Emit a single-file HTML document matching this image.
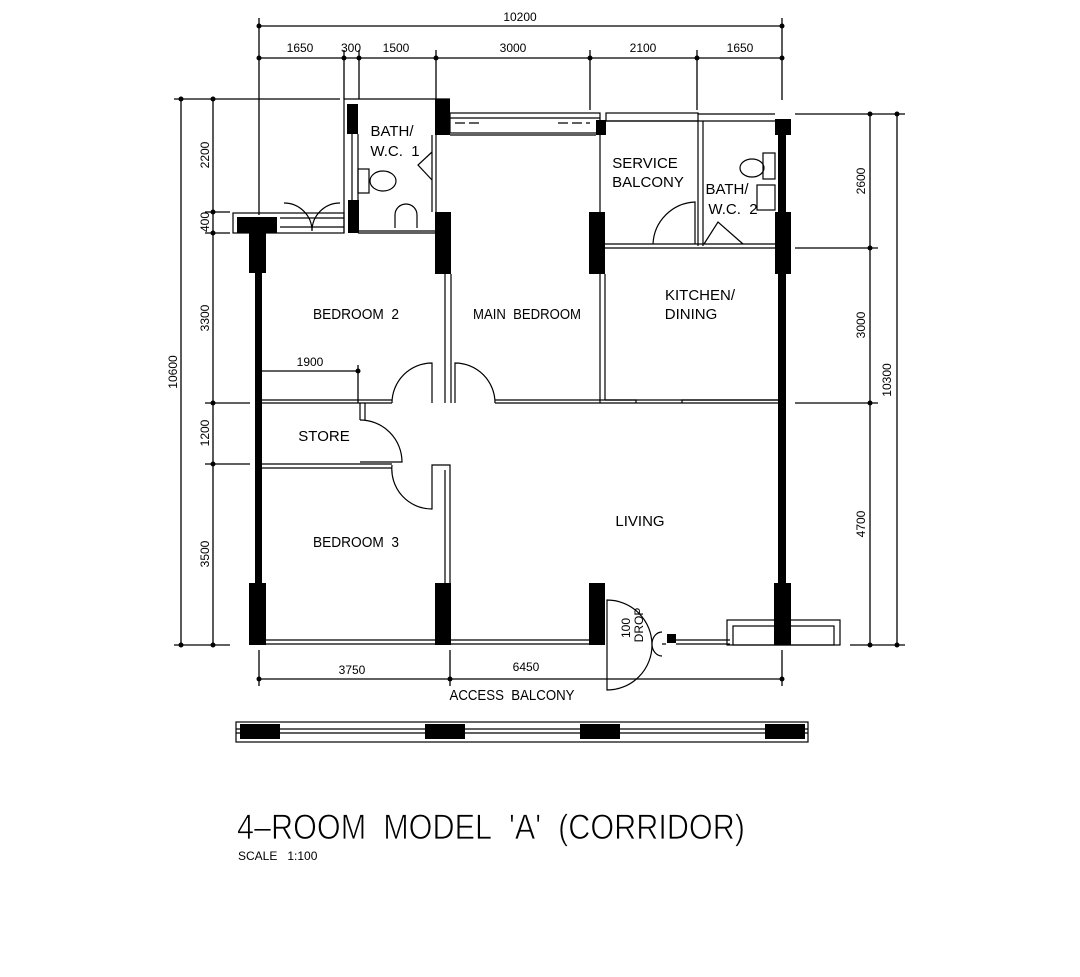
<!DOCTYPE html>
<html><head><meta charset="utf-8"><style>
html,body{margin:0;padding:0;background:#fff;}
svg{display:block}
text{font-family:"Liberation Sans",sans-serif;fill:#000}
</style></head><body>
<svg width="1080" height="977" viewBox="0 0 1080 977" xmlns="http://www.w3.org/2000/svg">
<g stroke="#000" stroke-width="1.3" fill="none">
<line x1="259" y1="26" x2="782" y2="26"/>
<line x1="259" y1="58" x2="782" y2="58"/>
<line x1="259" y1="18" x2="259" y2="215"/>
<line x1="782" y1="18" x2="782" y2="100"/>
<line x1="344" y1="50" x2="344" y2="99"/>
<line x1="359" y1="50" x2="359" y2="99"/>
<line x1="436" y1="50" x2="436" y2="99"/>
<line x1="590" y1="50" x2="590" y2="110"/>
<line x1="697" y1="50" x2="697" y2="110"/>
<line x1="181" y1="99" x2="181" y2="645"/>
<line x1="213" y1="99" x2="213" y2="645"/>
<line x1="174" y1="99" x2="340" y2="99"/>
<line x1="205" y1="212" x2="230" y2="212"/>
<line x1="205" y1="233" x2="230" y2="233"/>
<line x1="205" y1="403" x2="250" y2="403"/>
<line x1="205" y1="464" x2="250" y2="464"/>
<line x1="174" y1="645" x2="230" y2="645"/>
<line x1="870" y1="114" x2="870" y2="645"/>
<line x1="897" y1="114" x2="897" y2="645"/>
<line x1="795" y1="114" x2="905" y2="114"/>
<line x1="795" y1="248" x2="878" y2="248"/>
<line x1="795" y1="403" x2="878" y2="403"/>
<line x1="850" y1="645" x2="905" y2="645"/>
<line x1="259" y1="679" x2="782" y2="679"/>
<line x1="259" y1="650" x2="259" y2="686"/>
<line x1="450" y1="650" x2="450" y2="686"/>
<line x1="782" y1="650" x2="782" y2="686"/>
<line x1="262" y1="371" x2="358" y2="371"/>
<line x1="358" y1="365" x2="358" y2="403"/>
</g>
<g fill="#000">
<circle cx="259" cy="26" r="2.5"/><circle cx="782" cy="26" r="2.5"/>
<circle cx="259" cy="58" r="2.5"/><circle cx="344" cy="58" r="2.5"/><circle cx="359" cy="58" r="2.5"/><circle cx="436" cy="58" r="2.5"/><circle cx="590" cy="58" r="2.5"/><circle cx="697" cy="58" r="2.5"/><circle cx="782" cy="58" r="2.5"/>
<circle cx="181" cy="99" r="2.5"/><circle cx="181" cy="645" r="2.5"/>
<circle cx="213" cy="99" r="2.5"/><circle cx="213" cy="212" r="2.5"/><circle cx="213" cy="233" r="2.5"/><circle cx="213" cy="403" r="2.5"/><circle cx="213" cy="464" r="2.5"/><circle cx="213" cy="645" r="2.5"/>
<circle cx="870" cy="114" r="2.5"/><circle cx="870" cy="248" r="2.5"/><circle cx="870" cy="403" r="2.5"/><circle cx="870" cy="645" r="2.5"/>
<circle cx="897" cy="114" r="2.5"/><circle cx="897" cy="645" r="2.5"/>
<circle cx="259" cy="679" r="2.5"/><circle cx="450" cy="679" r="2.5"/><circle cx="782" cy="679" r="2.5"/>
<circle cx="358" cy="371" r="2.5"/>
<rect x="237" y="217" width="40" height="16"/>
<rect x="249" y="233" width="17" height="40"/>
<rect x="255" y="273" width="7" height="310"/>
<rect x="249" y="583" width="17" height="62"/>
<rect x="347" y="104" width="11" height="30"/>
<rect x="348" y="200" width="11" height="33"/>
<rect x="435" y="99" width="15" height="36"/>
<rect x="435" y="212" width="16" height="62"/>
<rect x="596" y="120" width="10" height="15"/>
<rect x="589" y="212" width="16" height="62"/>
<rect x="775" y="119" width="16" height="16"/>
<rect x="778" y="135" width="8" height="450"/>
<rect x="775" y="212" width="16" height="62"/>
<rect x="435" y="583" width="16" height="62"/>
<rect x="589" y="583" width="16" height="62"/>
<rect x="774" y="583" width="17" height="62"/>
<rect x="667" y="634" width="9" height="9"/>
<rect x="240" y="724" width="40" height="15"/>
<rect x="425" y="724" width="40" height="15"/>
<rect x="580" y="724" width="40" height="15"/>
<rect x="765" y="724" width="40" height="15"/>
</g>
<g stroke="#000" stroke-width="1.2" fill="none">
<polyline points="344,233 344,99 450,99"/>
<line x1="358" y1="134" x2="358" y2="200"/>
<line x1="352" y1="134" x2="352" y2="200"/>
<line x1="358" y1="231" x2="436" y2="231"/>
<line x1="358" y1="233" x2="436" y2="233"/>
<line x1="436" y1="135" x2="436" y2="212"/>
<line x1="432" y1="135" x2="432" y2="212"/>
<polyline points="432,152 418,165 432,180"/>
<ellipse cx="383" cy="181" rx="13" ry="10"/>
<rect x="358" y="169" width="11" height="24"/>
<path d="M395,228 V215 a11,11 0 0 1 22,0 V228"/>
<rect x="233" y="213" width="111" height="20"/>
<line x1="280" y1="218" x2="344" y2="218"/>
<line x1="280" y1="227" x2="344" y2="227"/>
<path d="M284,203 a28,28 0 0 1 28,28 M340,203 a28,28 0 0 0 -28,28"/>
<rect x="450" y="113" width="150" height="20"/>
<line x1="450" y1="118" x2="600" y2="118"/>
<line x1="450" y1="135" x2="596" y2="135"/>
<line x1="455" y1="123" x2="482" y2="123" stroke-dasharray="10,4"/>
<line x1="558" y1="123" x2="590" y2="123" stroke-dasharray="10,4"/>
<rect x="606" y="113" width="92" height="8"/>
<polyline points="698,114 775,114"/>
<line x1="606" y1="121" x2="775" y2="121"/>
<line x1="698" y1="121" x2="698" y2="246"/>
<line x1="703" y1="121" x2="703" y2="246"/>
<line x1="600" y1="135" x2="600" y2="212"/>
<line x1="605" y1="244" x2="778" y2="244"/>
<line x1="605" y1="248" x2="778" y2="248"/>
<path d="M653,244 a44,44 0 0 1 42,-42 V244"/>
<polyline points="704,244 718,222 743,244"/>
<ellipse cx="752" cy="168" rx="12" ry="9"/>
<rect x="763" y="153" width="12" height="26"/>
<rect x="757" y="185" width="18" height="25"/>
<line x1="600" y1="274" x2="600" y2="403"/>
<line x1="605" y1="274" x2="605" y2="400"/>
<polyline points="605,400 636,400 636,403"/>
<polyline points="682,403 682,400 778,400"/>
<line x1="445" y1="274" x2="445" y2="403"/>
<line x1="451" y1="274" x2="451" y2="403"/>
<path d="M392,403 a40,40 0 0 1 40,-40 V403"/>
<path d="M455,403 V363 a40,40 0 0 1 40,40"/>
<line x1="495" y1="403" x2="778" y2="403"/>
<line x1="495" y1="400" x2="778" y2="400"/>
<line x1="262" y1="403" x2="392" y2="403"/>
<line x1="262" y1="400" x2="392" y2="400"/>
<line x1="360" y1="403" x2="360" y2="420"/>
<line x1="365" y1="403" x2="365" y2="420"/>
<path d="M360,420 a42,42 0 0 1 42,42 H360"/>
<line x1="262" y1="464" x2="392" y2="464"/>
<line x1="262" y1="468" x2="392" y2="468"/>
<path d="M392,465 a40,40 0 0 0 40,44 V465 h18 V583"/>
<line x1="445" y1="470" x2="445" y2="583"/>
<line x1="266" y1="640" x2="589" y2="640"/>
<line x1="266" y1="644" x2="589" y2="644"/>
<line x1="676" y1="640" x2="730" y2="640"/>
<line x1="676" y1="644" x2="730" y2="644"/>
<path d="M607,600 a45,45 0 0 1 45,45 a45,45 0 0 1 -45,45 Z"/>
<path d="M662,632 a10,12 0 0 0 0,24 M662,644 h4"/>
<rect x="727" y="620" width="113" height="25"/>
<rect x="733" y="626" width="101" height="19"/>
<rect x="236" y="722" width="572" height="20"/>
<line x1="236" y1="729" x2="808" y2="729"/>
<line x1="236" y1="733" x2="808" y2="733"/>
</g>
<g font-size="12">
<text x="300" y="52" text-anchor="middle">1650</text>
<text x="351" y="52" text-anchor="middle">300</text>
<text x="396" y="52" text-anchor="middle">1500</text>
<text x="513" y="52" text-anchor="middle">3000</text>
<text x="643" y="52" text-anchor="middle">2100</text>
<text x="740" y="52" text-anchor="middle">1650</text>
<text x="520" y="21" text-anchor="middle">10200</text>
<text x="310" y="366" text-anchor="middle">1900</text>
<text x="352" y="674" text-anchor="middle">3750</text>
<text x="526" y="671" text-anchor="middle">6450</text>
<text transform="translate(209,155) rotate(-90)" text-anchor="middle">2200</text>
<text transform="translate(209,222) rotate(-90)" text-anchor="middle">400</text>
<text transform="translate(209,318) rotate(-90)" text-anchor="middle">3300</text>
<text transform="translate(209,433) rotate(-90)" text-anchor="middle">1200</text>
<text transform="translate(209,554) rotate(-90)" text-anchor="middle">3500</text>
<text transform="translate(177,372) rotate(-90)" text-anchor="middle">10600</text>
<text transform="translate(865,181) rotate(-90)" text-anchor="middle">2600</text>
<text transform="translate(865,325) rotate(-90)" text-anchor="middle">3000</text>
<text transform="translate(865,524) rotate(-90)" text-anchor="middle">4700</text>
<text transform="translate(891,380) rotate(-90)" text-anchor="middle">10300</text>
<text transform="translate(630,628) rotate(-90)" text-anchor="middle">100</text>
<text transform="translate(643,625) rotate(-90)" text-anchor="middle">DROP</text>
</g>
<g font-size="15">
<text x="392" y="136" text-anchor="middle">BATH/</text>
<text x="395" y="156" text-anchor="middle">W.C.&#160;&#160;1</text>
<text x="645" y="168" text-anchor="middle">SERVICE</text>
<text x="648" y="187" text-anchor="middle">BALCONY</text>
<text x="727" y="194" text-anchor="middle">BATH/</text>
<text x="733" y="214" text-anchor="middle">W.C.&#160;&#160;2</text>
<text x="700" y="300" text-anchor="middle">KITCHEN/</text>
<text x="691" y="319" text-anchor="middle">DINING</text>
<text x="356" y="319" text-anchor="middle" textLength="86" lengthAdjust="spacingAndGlyphs">BEDROOM&#160;&#160;2</text>
<text x="527" y="319" text-anchor="middle" textLength="108" lengthAdjust="spacingAndGlyphs">MAIN&#160;&#160;BEDROOM</text>
<text x="324" y="441" text-anchor="middle">STORE</text>
<text x="640" y="526" text-anchor="middle">LIVING</text>
<text x="356" y="547" text-anchor="middle" textLength="86" lengthAdjust="spacingAndGlyphs">BEDROOM&#160;&#160;3</text>
<text x="512" y="700" text-anchor="middle" textLength="125" lengthAdjust="spacingAndGlyphs">ACCESS&#160;&#160;BALCONY</text>
</g>
<text x="237" y="839" font-size="35" textLength="508" lengthAdjust="spacingAndGlyphs" stroke="#fff" stroke-width="0.8">4–ROOM&#160;&#160;MODEL&#160;&#160;'A'&#160;&#160;(CORRIDOR)</text>
<text x="238" y="860" font-size="12">SCALE&#160;&#160;&#160;1:100</text>
</svg>
</body></html>
